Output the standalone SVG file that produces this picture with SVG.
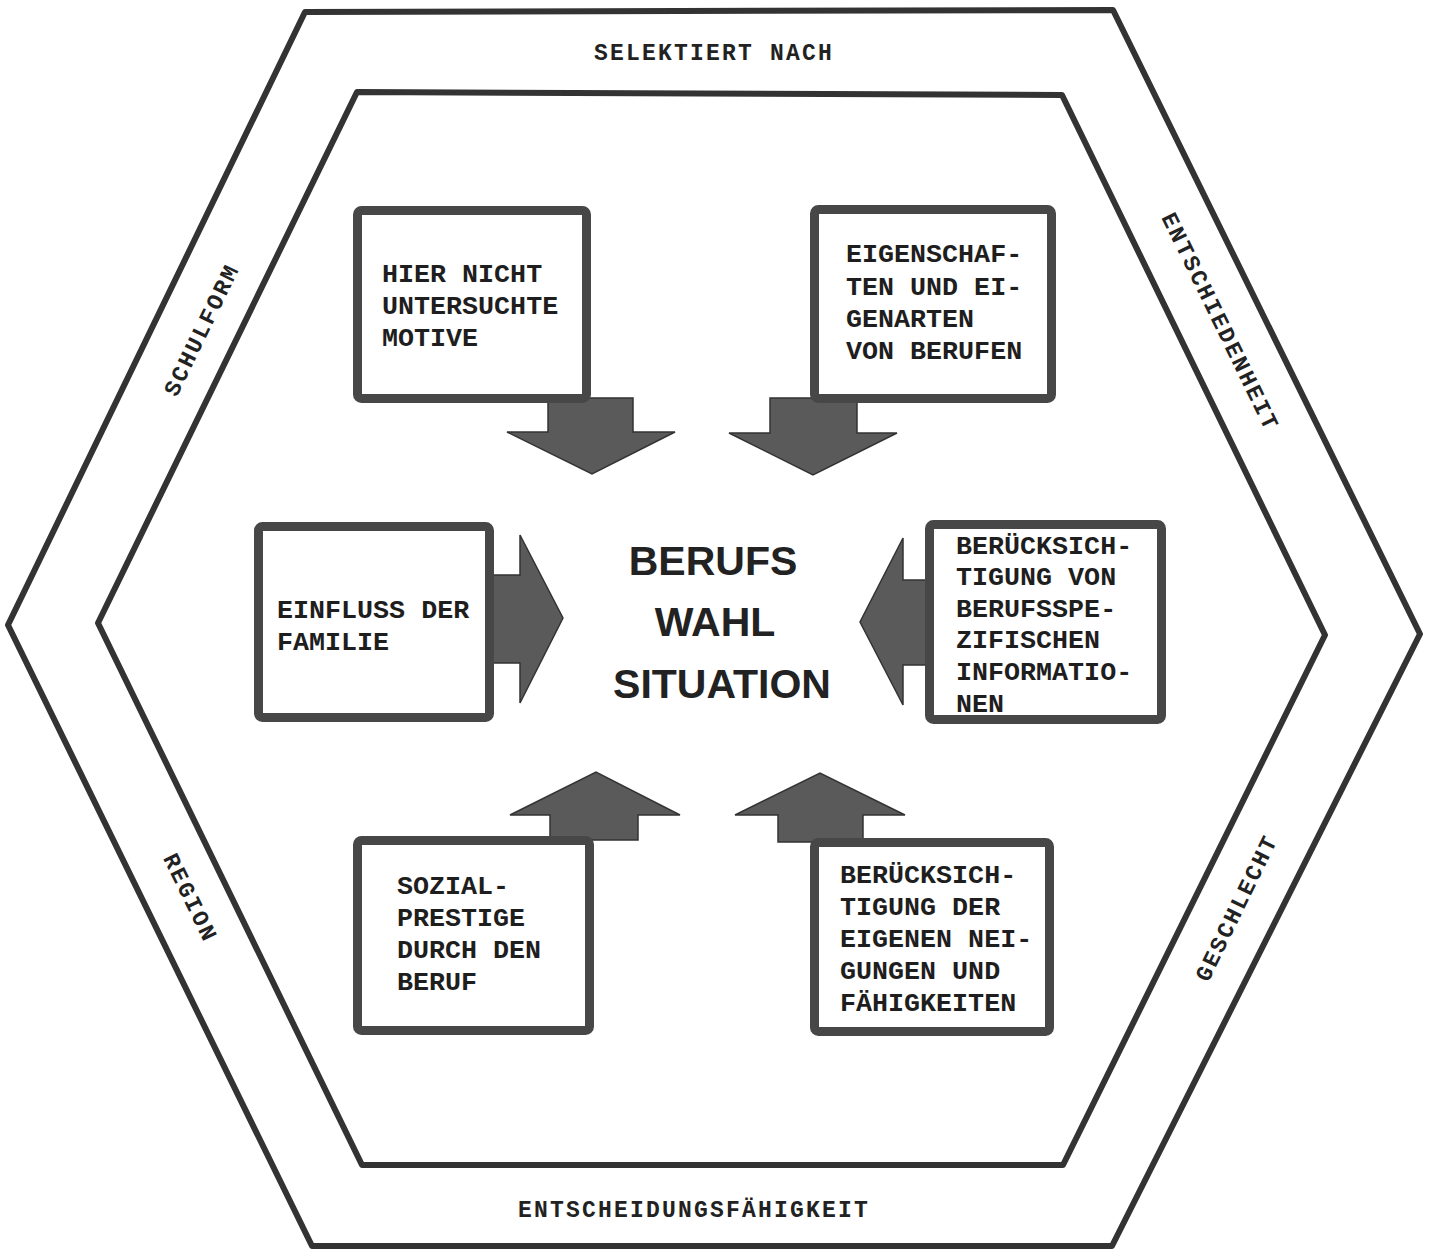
<svg xmlns="http://www.w3.org/2000/svg" width="1432" height="1252" viewBox="0 0 1432 1252">
<defs>
<style>
.hex{fill:none;stroke:#333;stroke-width:6;stroke-linejoin:round}
.box{fill:#fff;stroke:#474747;stroke-width:9;stroke-linejoin:round}
.arr{fill:#5a5a5a;stroke:#333;stroke-width:1.5;stroke-linejoin:miter}
.t{font-family:"Liberation Mono","Courier New",monospace;font-size:26.7px;font-weight:bold;fill:#1e1e1e}
.lab{font-family:"Liberation Mono","Courier New",monospace;font-size:23px;font-weight:bold;fill:#222;letter-spacing:2.2px;text-anchor:middle}
.title{font-family:"Liberation Sans",Arial,sans-serif;font-size:41px;font-weight:bold;fill:#222;text-anchor:middle}
</style>
</defs>
<rect width="1432" height="1252" fill="#fff"/>
<g id="frame">
<polygon class="hex" points="305,12 1113,10 1420,634 1112,1246 312,1246 8,625"/>
<polygon class="hex" points="357,92 1062,95 1325,635 1063,1165 362,1165 98,623"/>
<text class="lab" x="714" y="60">SELEKTIERT NACH</text>
<text class="lab" x="694" y="1217">ENTSCHEIDUNGSFÄHIGKEIT</text>
<text class="lab" transform="translate(202,330) rotate(-64)" y="7">SCHULFORM</text>
<text class="lab" transform="translate(1220,322) rotate(64)" y="7">ENTSCHIEDENHEIT</text>
<text class="lab" transform="translate(190,898) rotate(64)" y="7">REGION</text>
<text class="lab" transform="translate(1237,908) rotate(-64)" y="7">GESCHLECHT</text>
</g>
<g id="connectors">
<polygon class="arr" points="548,398 633,398 633,432 675,432 592,474 507,432 548,432"/>
<polygon class="arr" points="770,398 857,398 857,433 897,433 813,475 729,433 770,433"/>
<polygon class="arr" points="490,575 520,575 520,535 563,618 520,703 520,663 490,663"/>
<polygon class="arr" points="930,580 903,580 903,538 860,622 903,705 903,665 930,665"/>
<polygon class="arr" points="550,840 550,815 510,815 596,772 680,815 638,815 638,840"/>
<polygon class="arr" points="778,842 778,815 735,815 820,773 905,815 863,815 863,842"/>
</g>
<g id="center">
<text class="title" x="713" y="575">BERUFS</text>
<text class="title" x="715" y="636">WAHL</text>
<text class="title" x="722" y="698">SITUATION</text>
</g>
<g id="box-motive">
<rect class="box" x="357.5" y="210.5" width="229" height="188" rx="4"/>
<text class="t" x="382" y="282">HIER NICHT</text>
<text class="t" x="382" y="314">UNTERSUCHTE</text>
<text class="t" x="382" y="346">MOTIVE</text>
</g>
<g id="box-eigenschaften">
<rect class="box" x="814.5" y="209.5" width="237" height="189" rx="4"/>
<text class="t" x="846" y="262">EIGENSCHAF-</text>
<text class="t" x="846" y="295">TEN UND EI-</text>
<text class="t" x="846" y="327">GENARTEN</text>
<text class="t" x="846" y="359">VON BERUFEN</text>
</g>
<g id="box-familie">
<rect class="box" x="258.5" y="526.5" width="231" height="191" rx="4"/>
<text class="t" x="277" y="618">EINFLUSS DER</text>
<text class="t" x="277" y="650">FAMILIE</text>
</g>
<g id="box-informationen">
<rect class="box" x="929.5" y="524.5" width="232" height="195" rx="4"/>
<text class="t" x="956" y="554">BERÜCKSICH-</text>
<text class="t" x="956" y="585">TIGUNG VON</text>
<text class="t" x="956" y="617">BERUFSSPE-</text>
<text class="t" x="956" y="648">ZIFISCHEN</text>
<text class="t" x="956" y="680">INFORMATIO-</text>
<text class="t" x="956" y="712">NEN</text>
</g>
<g id="box-sozialprestige">
<rect class="box" x="357.5" y="840.5" width="232" height="190" rx="4"/>
<text class="t" x="397" y="894">SOZIAL-</text>
<text class="t" x="397" y="926">PRESTIGE</text>
<text class="t" x="397" y="958">DURCH DEN</text>
<text class="t" x="397" y="990">BERUF</text>
</g>
<g id="box-neigungen">
<rect class="box" x="814.5" y="842.5" width="235" height="189" rx="4"/>
<text class="t" x="840" y="883">BERÜCKSICH-</text>
<text class="t" x="840" y="915">TIGUNG DER</text>
<text class="t" x="840" y="947">EIGENEN NEI-</text>
<text class="t" x="840" y="979">GUNGEN UND</text>
<text class="t" x="840" y="1011">FÄHIGKEITEN</text>
</g>
</svg>
